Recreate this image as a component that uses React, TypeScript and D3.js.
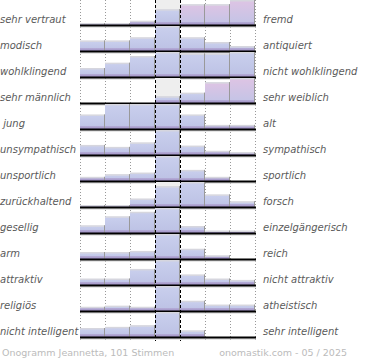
import * as d3 from "d3";

const leftLabels = [
  "sehr vertraut", "modisch", "wohlklingend", "sehr männlich", " jung",
  "unsympathisch", "unsportlich", "zurückhaltend", "gesellig", "arm",
  "attraktiv", "religiös", "nicht intelligent",
];
const rightLabels = [
  "fremd", "antiquiert", "nicht wohlklingend", "sehr weiblich", "alt",
  "sympathisch", "sportlich", "forsch", "einzelgängerisch", "reich",
  "nicht attraktiv", "atheistisch", "sehr intelligent",
];
// votes per scale step (1..7), 101 votes per row
const votes = [
  [1, 1, 4, 18, 24, 24, 29],
  [12, 12, 16, 30, 16, 10, 5],
  [6, 10, 15, 18, 17, 17, 18],
  [0, 0, 0, 10, 16, 34, 41],
  [13, 23, 23, 23, 13, 3, 3],
  [14, 11, 18, 37, 13, 5, 3],
  [6, 11, 14, 45, 19, 6, 0],
  [1, 1, 11, 29, 35, 17, 7],
  [9, 21, 27, 32, 8, 2, 2],
  [11, 11, 13, 44, 17, 5, 0],
  [8, 8, 22, 35, 14, 8, 6],
  [6, 8, 6, 44, 17, 10, 10],
  [14, 16, 19, 42, 10, 0, 0],
];
const footerLeft = "Onogramm Jeannetta, 101 Stimmen";
const footerRight = "onomastik.com - 05 / 2025";

const W = 370;
const H = 360;
const barH = 24;

export default function App() {
  const x = d3.scaleLinear().domain([0, 7]).range([80, 255]);
  const yBase = d3.scaleLinear().domain([0, 12]).range([25, 337]);
  const lines = d3.range(8);

  return (
    <svg
      width={W}
      height={H}
      style={{ position: "absolute", left: 0, top: 0, background: "#fff" }}
      fontFamily="DejaVu Sans"
    >
      <defs>
        <linearGradient id="gBlue" x1="0" y1="0" x2="0" y2="1">
          <stop offset="0" stopColor="#c9cfed" />
          <stop offset="1" stopColor="#bcc1e4" />
        </linearGradient>
        <linearGradient id="gPink" x1="0" y1="0" x2="0" y2="1">
          <stop offset="0" stopColor="#ddc4e4" />
          <stop offset="1" stopColor="#c2c4e6" />
        </linearGradient>
        <linearGradient id="gFoot" x1="0" y1="0" x2="0" y2="1">
          <stop offset="0" stopColor="#b6aed8" />
          <stop offset="1" stopColor="#9d8ec2" />
        </linearGradient>
      </defs>

      {/* dotted grid under the bars */}
      {lines
        .filter((i) => i !== 3 && i !== 4)
        .map((i) => (
          <line
            key={"d" + i}
            x1={x(i) + 0.5}
            x2={x(i) + 0.5}
            y1={0}
            y2={341}
            stroke="#999"
            strokeDasharray="1,2"
          />
        ))}

      {votes.map((row, r) => {
        const base = yBase(r);
        const h = d3.scaleLinear().domain([0, d3.max(row) as number]).range([0, barH]);
        const total = d3.sum(row);
        const mean = d3.sum(row, (v, i) => v * (i + 1)) / total;
        const dev = mean - 4;
        const max = d3.max(row) as number;
        return (
          <g key={r}>
            <rect x={x(3)} y={base - barH - 1} width={x(4) - x(3)} height={barH + 1} fill="#eeeeee" />
            {row.map((v, i) => {
              if (v <= 0) return null;
              const bh = Math.max(h(v), 1);
              const x0 = x(i);
              const w = x(i + 1) - x0;
              const pink =
                Math.abs(dev) > 1 &&
                i !== 3 &&
                Math.sign(i - 3) === Math.sign(dev) &&
                v >= 0.75 * max;
              return (
                <g key={i}>
                  <rect x={x0} y={base - bh} width={w} height={bh} fill={pink ? "url(#gPink)" : "url(#gBlue)"} />
                  <rect x={x0} y={base - Math.min(3, bh)} width={w} height={Math.min(3, bh)} fill="url(#gFoot)" />
                  <rect x={x0} y={base - bh - 1} width={w} height={1.5} fill="#d6d6de" />
                  <line x1={x0 + w - 0.5} x2={x0 + w - 0.5} y1={base - bh - 1} y2={base} stroke="#999" />
                </g>
              );
            })}
            <rect x={x(0)} y={base + 1.5} width={x(7) - x(0) + 1} height={1} fill="#cfcfcf" />
            <rect x={x(0)} y={base - 0.5} width={x(7) - x(0) + 1} height={2} fill="#000" />
            <text x={0} y={base - 2} fontSize={10} fontStyle="italic" fill="#5a5a5a" xmlSpace="preserve">
              {leftLabels[r]}
            </text>
            <text x={263} y={base - 2} fontSize={10} fontStyle="italic" fill="#5a5a5a">
              {rightLabels[r]}
            </text>
          </g>
        );
      })}

      {/* dashed centre column lines over the bars */}
      {[3, 4].map((i) => (
        <line
          key={"c" + i}
          x1={x(i) + 0.5}
          x2={x(i) + 0.5}
          y1={0}
          y2={341}
          stroke="#000"
          strokeDasharray="3,2"
        />
      ))}

      <text x={2} y={356} fontSize={9.5} fill="#bbb">
        {footerLeft}
      </text>
      <text x={347} y={356} fontSize={9.5} fill="#bbb" textAnchor="end">
        {footerRight}
      </text>
    </svg>
  );
}
